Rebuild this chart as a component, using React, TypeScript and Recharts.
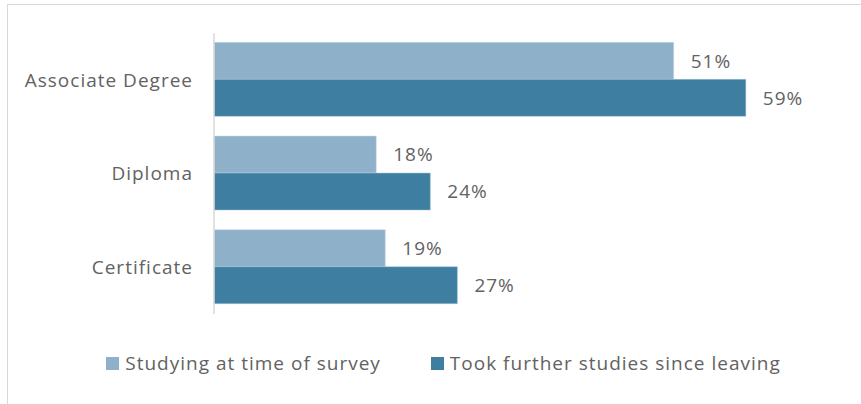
import { BarChart, Bar, XAxis, YAxis, Legend, LabelList } from 'recharts';

const categories = ['Associate Degree', 'Diploma', 'Certificate'];
const studyingNow = [51, 18, 19];
const furtherStudies = [59, 24, 27];
const seriesNames = ['Studying at time of survey', 'Took further studies since leaving'];

const LIGHT = '#8EB1C9';
const DARK = '#3D7EA1';
const TEXT = '#626262';
const FONT = '"Open Sans", sans-serif';
const SIZE = 19;
const SPACING = 1;

const chartData = categories.map((name, i) => ({
  name,
  studying: studyingNow[i],
  further: furtherStudies[i],
}));

const textStyle = { fill: TEXT, fontSize: SIZE, fontFamily: FONT, letterSpacing: SPACING };

const LegendContent = () => (
  <div
    style={{
      height: 62,
      display: 'flex',
      alignItems: 'flex-end',
      justifyContent: 'center',
      paddingLeft: 42,
      boxSizing: 'border-box',
      fontFamily: FONT,
      fontSize: SIZE,
      letterSpacing: SPACING,
      color: TEXT,
    }}
  >
    {seriesNames.map((s, i) => (
      <div key={s} style={{ display: 'flex', alignItems: 'center', marginRight: i === 0 ? 50 : 0 }}>
        <span
          style={{
            display: 'inline-block',
            width: 13,
            height: 13,
            background: i === 0 ? LIGHT : DARK,
            marginRight: 6,
          }}
        />
        <span>{s}</span>
      </div>
    ))}
  </div>
);

export default function App() {
  return (
    <div style={{ position: 'absolute', left: 0, top: 0, width: 861, height: 404, overflow: 'hidden', background: '#fff' }}>
      <div
        style={{
          position: 'absolute',
          left: 7,
          top: 4,
          width: 880,
          height: 420,
          border: '1px solid #d9d9d9',
        }}
      />
      <BarChart
        width={861}
        height={404}
        data={chartData}
        layout="vertical"
        margin={{ top: 33, right: 16, bottom: 28, left: 0 }}
        barCategoryGap="10%"
        barGap={0}
        style={{ position: 'absolute', left: 0, top: 0 }}
      >
        <XAxis type="number" domain={[0, 70]} hide />
        <YAxis
          type="category"
          dataKey="name"
          width={214}
          tickLine={false}
          tickSize={0}
          tickMargin={21}
          axisLine={{ stroke: '#d9d9d9', strokeWidth: 1.5 }}
          tick={textStyle}
        />
        <Legend verticalAlign="bottom" content={<LegendContent />} />
        <Bar dataKey="studying" name={seriesNames[0]} fill={LIGHT} stroke="#c7dbe8" strokeWidth={0.5} isAnimationActive={false}>
          <LabelList
            dataKey="studying"
            position="right"
            offset={17}
            formatter={(v: number) => `${v}%`}
            style={textStyle}
          />
        </Bar>
        <Bar dataKey="further" name={seriesNames[1]} fill={DARK} stroke="#a9c6d8" strokeWidth={0.5} isAnimationActive={false}>
          <LabelList
            dataKey="further"
            position="right"
            offset={17}
            formatter={(v: number) => `${v}%`}
            style={textStyle}
          />
        </Bar>
      </BarChart>
    </div>
  );
}
